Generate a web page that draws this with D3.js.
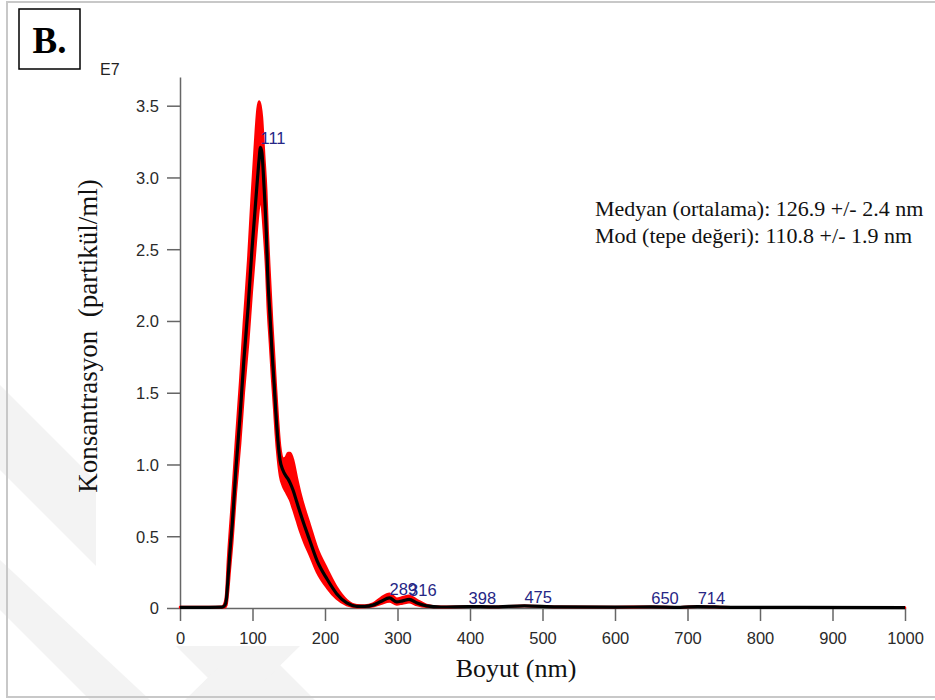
<!DOCTYPE html>
<html>
<head>
<meta charset="utf-8">
<script src="https://cdn.jsdelivr.net/npm/d3@7/dist/d3.min.js"></script>
<style>
  html, body { margin: 0; padding: 0; background: #fff; }
  svg { display: block; }
</style>
</head>
<body>
<script>
// ---------- DATA ----------
const sizes = [0, 40, 58, 62, 64, 66, 69, 72, 77, 83, 88, 94, 99, 103, 107, 109, 111, 113, 116, 119, 121, 124, 127, 130, 132, 135, 138, 142, 146, 149, 152, 156, 161, 166, 172, 179, 189, 203, 216, 230, 244, 255, 266, 277, 289, 299, 307, 316, 327, 340, 360, 398, 430, 475, 520, 600, 650, 690, 714, 760, 850, 1000];
const meanConc = [0.005, 0.005, 0.006, 0.02, 0.06, 0.19, 0.4, 0.58, 0.96, 1.35, 1.72, 2.1, 2.48, 2.74, 3.0, 3.12, 3.21, 3.17, 2.93, 2.62, 2.32, 2.05, 1.78, 1.55, 1.38, 1.17, 1.03, 0.96, 0.92, 0.9, 0.87, 0.82, 0.74, 0.66, 0.57, 0.47, 0.33, 0.2, 0.1, 0.035, 0.012, 0.012, 0.02, 0.045, 0.07, 0.042, 0.05, 0.06, 0.035, 0.015, 0.007, 0.01, 0.008, 0.015, 0.008, 0.006, 0.008, 0.005, 0.01, 0.005, 0.004, 0.003];
const upperConc = [0.007, 0.007, 0.009, 0.04, 0.12, 0.32, 0.55, 0.76, 1.15, 1.58, 1.98, 2.42, 2.87, 3.2, 3.48, 3.53, 3.5, 3.42, 3.16, 2.9, 2.62, 2.3, 2.0, 1.74, 1.56, 1.32, 1.13, 1.04, 1.05, 1.08, 1.08, 1.03, 0.91, 0.8, 0.69, 0.58, 0.42, 0.27, 0.145, 0.055, 0.02, 0.018, 0.03, 0.07, 0.1, 0.065, 0.075, 0.085, 0.055, 0.022, 0.008, 0.011, 0.009, 0.016, 0.009, 0.007, 0.009, 0.006, 0.011, 0.006, 0.005, 0.004];
const lowerConc = [0.003, 0.003, 0.004, 0.005, 0.02, 0.1, 0.28, 0.45, 0.8, 1.15, 1.5, 1.85, 2.2, 2.45, 2.7, 2.8, 2.85, 2.8, 2.6, 2.35, 2.1, 1.85, 1.6, 1.38, 1.22, 1.04, 0.92, 0.85, 0.81, 0.78, 0.75, 0.69, 0.61, 0.53, 0.45, 0.37, 0.25, 0.14, 0.065, 0.02, 0.006, 0.007, 0.012, 0.03, 0.045, 0.025, 0.032, 0.04, 0.02, 0.008, 0.005, 0.009, 0.007, 0.014, 0.007, 0.005, 0.007, 0.004, 0.009, 0.004, 0.003, 0.002];
const peakSizes = [111, 289, 316, 398, 475, 650, 714];
const xTicks = [0, 100, 200, 300, 400, 500, 600, 700, 800, 900, 1000];
const yTicks = [0, 0.5, 1.0, 1.5, 2.0, 2.5, 3.0, 3.5];
const statLines = ["Medyan (ortalama): 126.9 +/- 2.4 nm", "Mod (tepe değeri): 110.8 +/- 1.9 nm"];
const panelLabel = "B.";
const xTitle = "Boyut (nm)";
const yTitle = "Konsantrasyon  (partikül/ml)";
const yExponent = "E7";

// ---------- LAYOUT ----------
const W = 935, H = 700;
const serif = "'Liberation Serif','Times New Roman',serif";
const sans = "'Liberation Sans',Arial,sans-serif";
const svg = d3.select("body").append("svg").attr("width", W).attr("height", H);

// faint watermark bands
const wm = svg.append("g").attr("fill", "#f3f3f3");
wm.append("polygon").attr("points", "0,385 0,470 230,700 315,700");
wm.append("polygon").attr("points", "0,560 0,610 90,700 150,700");
wm.append("polygon").attr("points", "185,700 245,700 300,646 240,646");

// outer border
svg.append("rect").attr("x", 7).attr("y", 2).attr("width", 940).attr("height", 695)
  .attr("fill", "none").attr("stroke", "#c8c8c8").attr("stroke-width", 2);

// white chart inset
svg.append("rect").attr("x", 96).attr("y", 55).attr("width", 850).attr("height", 591).attr("fill", "#fff");

// panel label
svg.append("rect").attr("x", 19).attr("y", 9).attr("width", 61).attr("height", 60)
  .attr("fill", "#fff").attr("stroke", "#000").attr("stroke-width", 1.5);
svg.append("text").attr("x", 49.5).attr("y", 53).attr("text-anchor", "middle")
  .attr("font-family", serif).attr("font-weight", "bold")
  .attr("font-size", 37).text(panelLabel);

const x = d3.scaleLinear().domain([0, 1000]).range([180, 905]);
const y = d3.scaleLinear().domain([0, 3.7]).range([608, 77]);

// axes
const xAxis = svg.append("g").attr("transform", "translate(0,608)")
  .call(d3.axisBottom(x).tickValues(xTicks).tickSize(13).tickSizeOuter(0).tickPadding(6).tickFormat(d3.format("d")));
const yAxis = svg.append("g").attr("transform", "translate(180,0)")
  .call(d3.axisLeft(y).tickValues(yTicks).tickSize(13).tickSizeOuter(0).tickPadding(8)
    .tickFormat(d => d === 0 ? "0" : d3.format(".1f")(d)));
[xAxis, yAxis].forEach(a => {
  a.selectAll("path.domain").attr("stroke", "#666").attr("stroke-width", 1.5);
  a.selectAll(".tick line").attr("stroke", "#666").attr("stroke-width", 1.5);
  a.selectAll(".tick text").attr("fill", "#2a2a2a").attr("font-family", sans).attr("font-size", 16.5);
});
xAxis.selectAll(".tick text").attr("dy", "1.0em");
yAxis.selectAll(".tick text").attr("dy", "0.36em");

svg.append("text").attr("x", 100).attr("y", 75)
  .attr("font-family", sans).attr("font-size", 16).attr("fill", "#222").text(yExponent);

// data band & line
const pts = sizes.map((s, i) => ({ s, m: meanConc[i], u: upperConc[i], l: lowerConc[i] }));
const band = d3.area().x(d => x(d.s)).y0(d => y(d.l)).y1(d => y(d.u)).curve(d3.curveMonotoneX);
svg.append("path").datum(pts).attr("d", band).attr("fill", "#ff0000")
  .attr("stroke", "#ff0000").attr("stroke-width", 2.5).attr("stroke-linejoin", "round");
const line = d3.line().x(d => x(d.s)).y(d => y(d.m)).curve(d3.curveMonotoneX);
svg.append("path").datum(pts).attr("d", line).attr("fill", "none")
  .attr("stroke", "#000").attr("stroke-width", 3.2).attr("stroke-linejoin", "round");

// peak labels
const meanAt = s => {
  const i = sizes.indexOf(s);
  return i >= 0 ? meanConc[i] : 0;
};
svg.append("g").selectAll("text").data(peakSizes).join("text")
  .attr("x", d => x(d)).attr("y", d => y(meanAt(d)) - 3)
  .attr("font-family", sans).attr("font-size", 16.5)
  .attr("fill", "#262685").text(d => d);

// stats text
svg.append("g").selectAll("text").data(statLines).join("text")
  .attr("x", 595).attr("y", (d, i) => 216 + i * 27)
  .attr("font-family", serif).attr("font-size", 22)
  .attr("fill", "#111").text(d => d);

// axis titles
svg.append("text").attr("x", 516).attr("y", 677).attr("text-anchor", "middle")
  .attr("font-family", serif).attr("font-size", 26)
  .attr("fill", "#111").text(xTitle);
svg.append("text").attr("transform", "translate(97,336) rotate(-90)").attr("text-anchor", "middle")
  .style("white-space", "pre")
  .attr("font-family", serif).attr("font-size", 27)
  .attr("fill", "#111").text(yTitle);
</script>
</body>
</html>
